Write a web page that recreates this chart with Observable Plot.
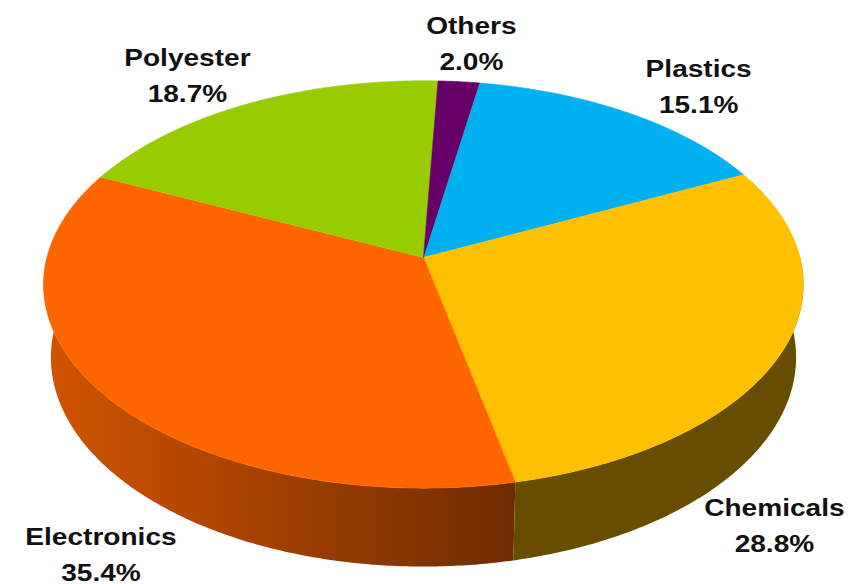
<!DOCTYPE html>
<html><head><meta charset="utf-8">
<script src="https://cdn.jsdelivr.net/npm/d3@7"></script>
<script src="https://cdn.jsdelivr.net/npm/@observablehq/plot@0.6"></script>
<style>body{margin:0;background:#fff;} #chart svg{display:block;}</style>
</head><body><div id="chart"></div>
<script>
// ---- data ----
const categories = ["Plastics", "Chemicals", "Electronics", "Polyester", "Others"];
const shares = [15.1, 28.8, 35.4, 18.7, 2.0];
const percentLabels = ["15.1%", "28.8%", "35.4%", "18.7%", "2.0%"];
// ---- styling ----
const topColors = ["#00b0f0", "#ffc000", "#ff6600", "#99cc00", "#660066"];
const sideShadeStart = [0.40, 0.40, 0.43, 0.55, 0.5];
const sideShadeEnd = [0.40, 0.40, 0.82, 0.55, 0.5];

// ---- 3D view parameters ----
const W = 861, H = 584;
const startAngle = 9.7;          // degrees, clockwise from the back
const tilt = 32.1 * Math.PI / 180;
const camDist = 6.40;
const thickness = 0.232;
const S = 2410, CX = 423, CY = 257;
const rad = Math.PI / 180;
const sinT = Math.sin(tilt), cosT = Math.cos(tilt);

function project(r, phiDeg, Y) {
  const p = phiDeg * rad;
  const X = r * Math.sin(p), Z = -r * Math.cos(p);
  const depth = camDist - Y * sinT - Z * cosT;
  return {u: X / depth, v: -(Y * cosT - Z * sinT) / depth, depth};
}

const total = d3.sum(shares);
let cum = 0;
const slices = categories.map((c, i) => {
  const a0 = startAngle + 360 * cum / total;
  cum += shares[i];
  const a1 = startAngle + 360 * cum / total;
  return {i, name: c, a0, a1, mid: (a0 + a1) / 2};
});

// top faces
const topData = [];
for (const s of slices) {
  const key = "top-" + s.i;
  const c = project(0, 0, 0);
  topData.push({key, u: c.u, v: c.v, color: topColors[s.i]});
  const n = Math.max(2, Math.ceil((s.a1 - s.a0) / 0.5));
  for (let k = 0; k <= n; k++) {
    const a = s.a0 + (s.a1 - s.a0) * k / n;
    const p = project(1, a, 0);
    topData.push({key, u: p.u, v: p.v, color: topColors[s.i]});
  }
}

// side walls: one band per slice over the front half
const sideData = [];
const gradients = [];
for (const s of slices) {
  const lo = Math.max(s.a0, 90), hi = Math.min(s.a1, 270);
  if (hi <= lo) continue;
  const n = Math.ceil((hi - lo) / 0.5);
  const key = "side-" + s.i;
  const gid = "sidegrad" + s.i;
  const color = `url(#${gid})`;
  const top = [], bot = [];
  for (let k = 0; k <= n; k++) {
    const a = lo + (hi - lo) * k / n;
    top.push(project(1, a, 0));
    bot.push(project(1, a, -thickness));
  }
  for (const p of top) sideData.push({key, u: p.u, v: p.v, color});
  for (const p of bot.reverse()) sideData.push({key, u: p.u, v: p.v, color});
  gradients.push({gid, i: s.i, uA: project(1, lo, 0).u, uB: project(1, hi, 0).u});
}

// labels
const labelData = slices.map(s => {
  const sn = Math.sin(s.mid * rad), cs = Math.cos(s.mid * rad);
  let u, v;
  if (cs > 0) {
    const e = project(1, s.mid, 0);
    u = e.u + sn * 118 / S;
    v = e.v + (-44 + 25 * Math.abs(sn)) / S;
  } else {
    const e = project(1, s.mid, -thickness);
    u = e.u + (-5 + 4 * sn) / S;
    v = e.v + (89 + 9 * sn) / S;
  }
  return {u, v, text: s.name + "\n" + percentLabels[s.i]};
});

const chart = Plot.plot({
  width: W, height: H, margin: 0,
  x: {domain: [-CX / S, (W - CX) / S], range: [0, W], axis: null},
  y: {domain: [-CY / S, (H - CY) / S], range: [0, H], axis: null},
  color: {type: "identity"},
  style: {background: "#ffffff", overflow: "visible"},
  marks: [
    Plot.line(sideData, {x: "u", y: "v", z: "key", fill: "color", stroke: "none", curve: "linear"}),
    Plot.line(topData, {x: "u", y: "v", z: "key", fill: "color", stroke: "color", strokeWidth: 0.6, curve: "linear"}),
    Plot.text(labelData, {x: "u", y: "v", text: "text", fontSize: 24, fontWeight: "bold",
      fontFamily: "Liberation Sans, Arial, sans-serif", lineHeight: 1.5, lineAnchor: "middle", fill: "#111111"})
  ]
});
document.getElementById("chart").appendChild(chart);

// horizontal shading gradients for the side walls
const xs = chart.scale("x");
const defs = d3.select(chart).insert("defs", ":first-child");
for (const g of gradients) {
  const base = d3.rgb(topColors[g.i]);
  const shadeColor = f => d3.rgb(base.r * f, base.g * f, base.b * f).formatHex();
  const lg = defs.append("linearGradient").attr("id", g.gid)
    .attr("gradientUnits", "userSpaceOnUse")
    .attr("x1", xs.apply(g.uA)).attr("y1", 0)
    .attr("x2", xs.apply(g.uB)).attr("y2", 0);
  lg.append("stop").attr("offset", 0).attr("stop-color", shadeColor(sideShadeStart[g.i]));
  lg.append("stop").attr("offset", 1).attr("stop-color", shadeColor(sideShadeEnd[g.i]));
}

// widen the label glyphs horizontally like the reference
d3.select(chart).selectAll('g[aria-label="text"] text').each(function () {
  let t = this.getAttribute("transform");
  if (!t) {
    const x = this.getAttribute("x") || 0, y = this.getAttribute("y") || 0;
    this.removeAttribute("x"); this.removeAttribute("y");
    t = `translate(${x},${y})`;
  }
  this.setAttribute("transform", t + " scale(1.17,1)");
});
</script>
</body></html>
